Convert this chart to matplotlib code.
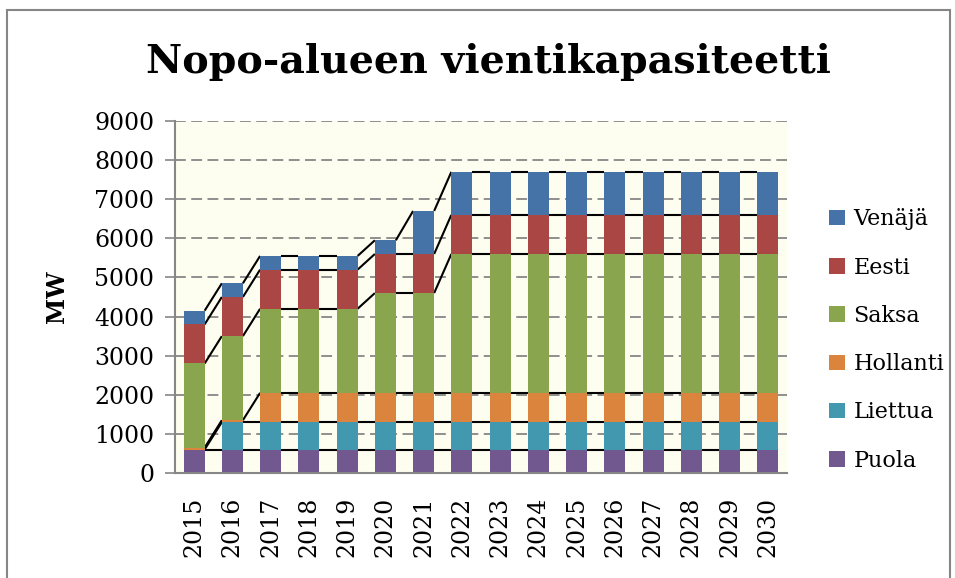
import matplotlib.pyplot as plt
from matplotlib.patches import Rectangle
import numpy as np

vuodet = [str(v) for v in range(2015, 2031)]
puola = [600] * 16
liettua = [0] + [700] * 15
hollanti = [50, 50] + [750] * 14
saksa = [2150, 2150, 2150, 2150, 2150, 2550, 2550] + [3550] * 9
eesti = [1000] * 16
venaja = [350, 350, 350, 350, 350, 350, 1100] + [1100] * 9

sarjat = ['Puola', 'Liettua', 'Hollanti', 'Saksa', 'Eesti', 'Venäjä']
arvot = [puola, liettua, hollanti, saksa, eesti, venaja]
varit = ['#71588F', '#4198AF', '#DB843D', '#89A54E', '#AA4643', '#4572A7']

plt.rcParams['font.family'] = ['DejaVu Serif']

fig = plt.figure(figsize=(9.55, 5.78), dpi=100)
ax = fig.add_axes([175 / 955, 1 - 473 / 578, 612 / 955, 352 / 578])
ax.set_facecolor('#FEFEF0')

x = np.arange(len(vuodet))
w = 0.55
pohja = np.zeros(len(vuodet))
palkit = []
for nimi, data, vari in zip(sarjat, arvot, varit):
    data = np.array(data)
    b = ax.bar(x, data, w, bottom=pohja, color=vari, label=nimi, zorder=3)
    palkit.append(b)
    pohja = pohja + data
    # sarjaviivat palkkien valiin
    for i in range(len(x) - 1):
        ax.plot([x[i] + w / 2, x[i + 1] - w / 2], [pohja[i], pohja[i + 1]],
                color='black', lw=1.5, zorder=2, solid_capstyle='butt')

ax.set_xlim(-0.5, len(vuodet) - 0.5)
ax.set_ylim(0, 9000)
ax.set_yticks(range(0, 9001, 1000))
ax.set_xticks(x)
ax.set_xticklabels(vuodet, rotation=90, fontsize=17)
ax.tick_params(axis='x', length=0, pad=17)
ax.tick_params(axis='y', labelsize=17, length=7, width=1.2, color='#868686', pad=8)

ax.yaxis.grid(True, color='#868686', lw=1.3, linestyle=(0, (6, 3)), zorder=1)
for s in ['top', 'right']:
    ax.spines[s].set_visible(False)
for s in ['left', 'bottom']:
    ax.spines[s].set_color('#868686')
    ax.spines[s].set_linewidth(1.5)
    ax.spines[s].set_zorder(4)

fig.text(57 / 955, 1 - 297 / 578, 'MW', fontsize=17, fontweight='bold',
         rotation=90, ha='center', va='center')

fig.text(488 / 955, 1 - 62 / 578, 'Nopo-alueen vientikapasiteetti',
         fontsize=28.5, fontweight='bold', ha='center', va='center')

kahvat = palkit[::-1]
leg = fig.legend(kahvat, sarjat[::-1], loc='center left',
                 bbox_to_anchor=(818 / 955, 1 - 340 / 578), frameon=False,
                 fontsize=16, handlelength=0.7, handleheight=0.7,
                 handletextpad=0.4, labelspacing=1.18, borderpad=0)

fig.patches.append(Rectangle((7 / 955, -0.01), 943 / 955, 1 - 10 / 578 + 0.01,
                             transform=fig.transFigure, fill=False,
                             edgecolor='#868686', lw=1.5))

fig.savefig('out.png', dpi=100)
